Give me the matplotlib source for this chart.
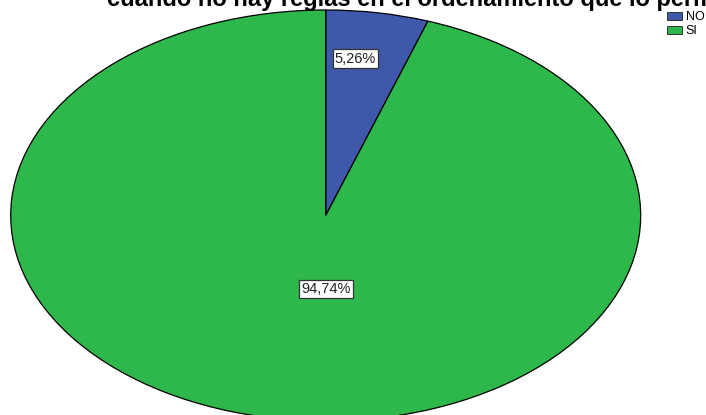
import matplotlib.pyplot as plt
from matplotlib.patches import Patch

plt.rcParams['font.family'] = ['Liberation Sans', 'DejaVu Sans']

# data
categories = ['NO', 'SI']
percents = [5.26, 94.74]
colors = ['#3e58ac', '#2eb84b']
title_line = 'cuando no hay reglas en el ordenamiento que lo permite?'

W, H = 706, 415
fig = plt.figure(figsize=(W / 100, H / 100), dpi=100)
ax = fig.add_axes([0, 0, 1, 1])

wedges, _ = ax.pie(percents, colors=colors, startangle=90, counterclock=False,
                   wedgeprops=dict(edgecolor='black', linewidth=0.9))

# stretch the pie into the ellipse seen in the picture
cx, cy, rx, ry = 325.7, 215.5, 315.0, 205.5
ax.set_aspect('auto')
ax.set_xlim(-cx / rx, (W - cx) / rx)
ax.set_ylim(-(H - cy) / ry, cy / ry)
ax.axis('off')

# percentage labels (pixel positions of the boxes)
label_px = [(355.5, 58.5), (326.0, 289.0)]
for p, (px, py) in zip(percents, label_px):
    ax.text((px - cx) / rx, (cy - py) / ry, f'{p:.2f}%'.replace('.', ','),
            ha='center', va='center', fontsize=10.5, color='#222222',
            bbox=dict(boxstyle='square,pad=0.15', fc='white', ec='#333333', lw=0.9))

# title, clipped at the top like the source
fig.text(107 / W, 1 - 5.7 / H, title_line, ha='left', va='baseline',
         fontsize=17, fontweight='bold', color='black')

handles = [Patch(facecolor=c, edgecolor='#333333', linewidth=0.7) for c in colors]
fig.legend(handles, categories, loc='upper left', bbox_to_anchor=(667 / W, 1 - 11.5 / H),
           frameon=False, fontsize=9, borderpad=0, borderaxespad=0,
           handlelength=1.2, handleheight=0.65, handletextpad=0.3, labelspacing=0.15)

fig.savefig('out.png', dpi=100)
